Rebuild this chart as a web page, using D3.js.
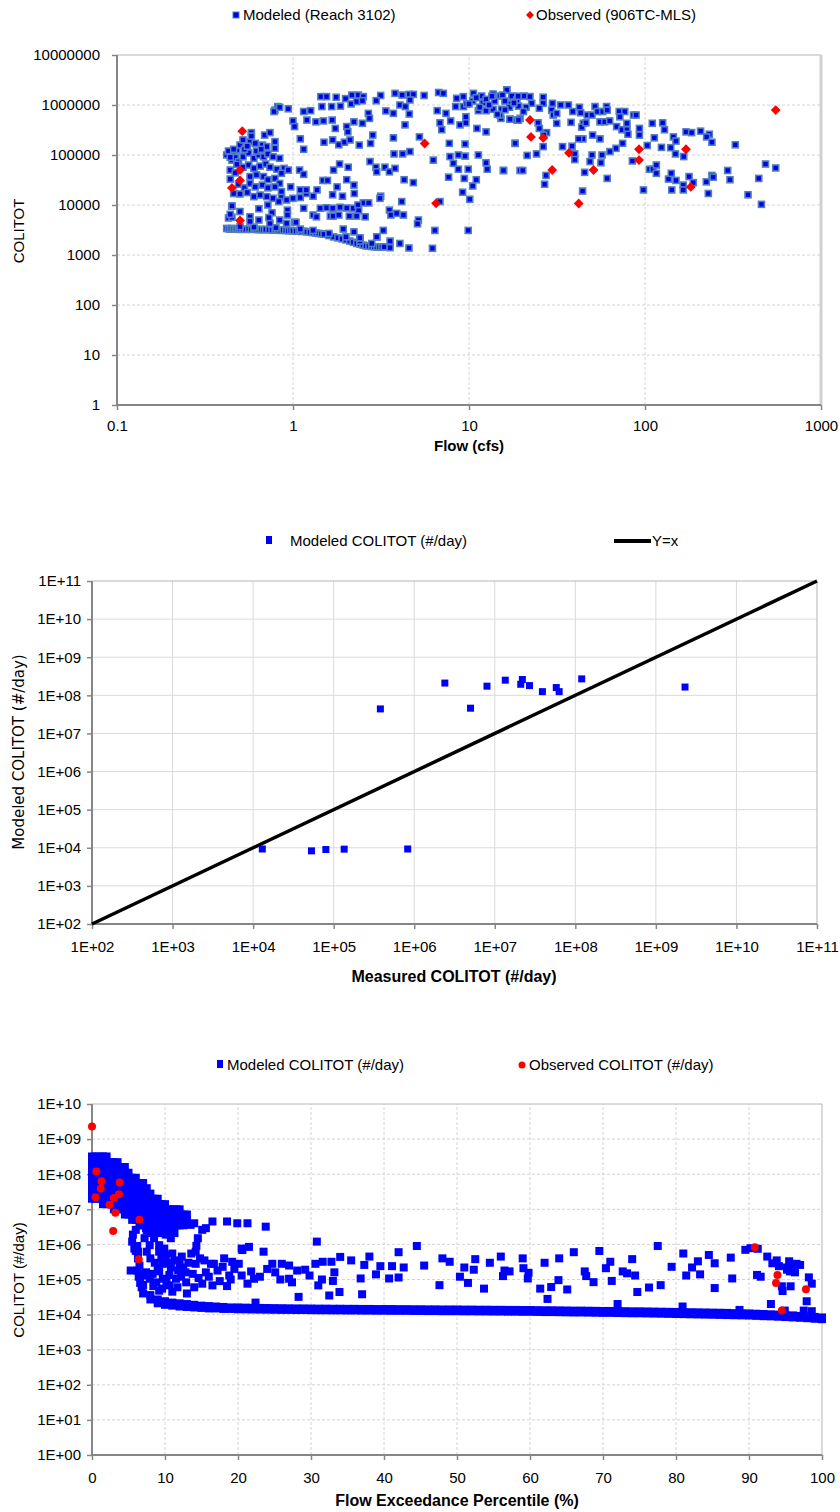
<!DOCTYPE html>
<html><head><meta charset="utf-8">
<script src="https://cdn.jsdelivr.net/npm/d3@7/dist/d3.min.js"></script>
<style>body{margin:0;background:#fff}svg{display:block}</style>
</head><body>
<svg id="chart" width="840" height="1512"></svg>
<script>
// ---------------- Panel 1: Flow vs COLITOT ----------------
const flowTicks = [0.1, 1, 10, 100, 1000];
const coliTicks = [1, 10, 100, 1000, 10000, 100000, 1000000, 10000000];
const reachFlowColi = [
[0.42,3400],[0.43,3350],[0.44,3300],[0.45,3400],[0.46,3300],[0.47,3350],[0.48,3300],[0.49,3250],[0.50,3350],[0.52,3300],[0.54,3250],[0.56,3300],[0.58,3250],[0.60,3300],[0.62,3250],[0.64,3200],[0.66,3250],[0.68,3200],[0.70,3250],[0.73,3200],[0.76,3150],[0.79,3200],[0.82,3150],[0.85,3100],[0.88,3150],[0.91,3100],[0.94,3050],[0.97,3100],[1.0,3050],[1.04,3000],[1.08,3050],[1.12,2950],[1.16,3000],[1.2,2900],[1.25,2850],[1.3,2800],[1.35,2750],[1.4,2700],[1.45,2650],[1.5,2600],[1.6,2450],[1.7,2300],[1.8,2200],[1.9,2100],[2.0,2000],[2.1,1900],[2.2,1800],[2.3,1700],[2.4,1650],[2.5,1580],[2.6,1520],[2.7,1500],[2.8,1480],[2.9,1460],[3.0,1450],[3.1,1450],[3.2,1440],[3.3,1450],
[0.5,3700],[0.6,3600],[0.8,3500],[1.1,3300],[1.3,3100],[1.6,2700],[2.0,2300],[2.4,1900],[2.8,1700],[3.56,1400],[4.56,1380],[6.2,1360],[4.05,1700],[3.56,1900],[2.4,2200],[3.0,2300],
[0.58,280000],[0.69,250000],[0.74,280000],[0.46,108000],[0.48,126000],[0.50,158000],[0.52,200000],[0.57,185000],[0.61,171000],[0.67,158000],[0.71,147000],[0.79,185000],[0.79,136000],
[0.45,79000],[0.47,89000],[0.49,73000],[0.52,92000],[0.56,110000],[0.60,86000],[0.64,100000],[0.68,92000],[0.72,105000],[0.77,92000],[0.84,86000],[0.89,54000],[0.94,50000],
[0.44,50000],[0.44,33000],[0.47,44000],[0.52,57000],[0.56,63000],[0.60,54000],[0.65,60000],[0.70,66000],[0.74,57000],[0.81,52000],[0.86,43000],
[0.57,37000],[0.62,40000],[0.68,37000],[0.72,32000],[0.79,34000],[0.84,27000],[0.49,26000],[0.53,22000],[0.57,27000],[0.61,23000],[0.67,25000],[0.72,22000],[0.79,23000],[0.86,18500],
[0.46,17000],[0.50,16600],[0.55,17800],[0.60,14700],[0.65,15800],[0.71,14700],[0.77,13600],[0.86,14100],[0.92,12600],[1.0,13600],[1.10,14100],[1.19,17000],
[0.45,9500],[0.50,7400],[0.57,5800],[0.64,8400],[0.72,10000],[0.83,11700],[0.43,5500],[0.45,5700],[0.57,4700],[0.64,5000],[0.74,4300],[0.84,5000],[0.92,4300],[1.02,4500],
[0.42,100000],[0.43,120000],[0.44,90000],[0.46,130000],[0.48,65000],[0.53,130000],[0.55,150000],[0.62,120000],[0.66,130000],[0.58,240000],[0.79,790000],[0.82,930000],[0.45,9600],[0.44,6500],
[1.44,1470000],[1.55,1470000],[1.76,1430000],[1.99,1340000],[2.16,1580000],[2.35,1580000],[2.51,1470000],[3.15,1550000],[3.80,1710000],[4.17,1580000],[4.58,1630000],[4.83,1630000],[5.56,1550000],[6.72,1780000],[7.15,1710000],[8.51,1360000],[9.29,1470000],[10.6,1710000],[11.8,1510000],[13.7,1660000],[15.0,1510000],[16.4,2000000],[17.9,1360000],
[0.78,740000],[0.84,900000],[0.94,840000],[1.15,740000],[1.26,770000],[1.46,930000],[1.66,930000],[1.86,950000],[2.14,1050000],[2.30,1170000],[2.48,1220000],[2.68,680000],[2.97,1220000],[3.37,760000],[3.72,680000],[4.05,1000000],[4.35,930000],[4.62,1260000],[6.6,770000],[7.4,680000],[8.4,930000],[9.3,930000],[9.7,1050000],[11.3,770000],[12.5,770000],[13.7,820000],[15.3,820000],[17.1,1050000],[19.1,950000],
[1.0,480000],[1.02,370000],[1.2,500000],[1.35,460000],[1.49,480000],[1.67,500000],[1.74,340000],[2.02,370000],[2.05,290000],[2.22,460000],[2.48,430000],[2.72,540000],[4.33,400000],[4.58,660000],[6.84,440000],[7.0,320000],[7.87,480000],[8.89,400000],[9.6,580000],[9.6,440000],[11.1,340000],[12.5,290000],[15.2,540000],[17.1,520000],[18.7,500000],
[1.10,210000],[1.15,130000],[1.50,180000],[1.68,200000],[1.82,160000],[1.96,180000],[2.11,200000],[2.38,158000],[2.76,171000],[2.84,250000],[3.72,220000],[3.75,105000],[4.2,105000],[4.62,117000],[5.23,230000],[6.27,79000],[7.73,171000],[7.8,93000],[8.7,100000],[9.5,166000],[9.5,95000],[11.3,100000],[18.3,171000],
[1.09,50000],[1.15,41000],[1.70,50000],[1.84,66000],[2.06,57000],[2.74,74000],[2.96,57000],[2.99,46000],[3.33,57000],[3.53,46000],[3.80,54000],[4.28,32000],[4.83,28000],[7.66,36000],[8.15,68000],[8.7,52000],[9.4,34000],[9.9,52000],[11.0,32000],[12.5,70000],[12.7,52000],[15.7,49000],[19.5,49000],
[0.97,23000],[1.10,20000],[1.19,20000],[1.30,15000],[1.37,20000],[1.48,31000],[1.57,31000],[1.68,16000],[1.78,23000],[1.91,15000],[2.02,32000],[2.22,25000],[2.23,17000],[2.51,11000],[2.69,11000],[3.15,15000],[3.12,13600],[4.15,11700],[6.84,11700],[9.2,18000],[10.1,13000],[10.5,24000],
[1.15,8600],[1.43,8600],[1.55,8800],[1.68,8600],[1.85,9000],[2.02,8700],[2.20,8600],[2.34,10000],[2.36,7700],
[1.30,6300],[1.36,5800],[1.63,6000],[1.69,6000],[1.82,6300],[2.09,6000],[2.30,6000],[2.57,5800],[3.53,7900],[3.6,6300],[3.88,6800],[4.24,6300],[5.16,5000],[5.1,4200],[0.93,7900],[0.93,6300],[1.04,4500],[0.76,7000],[0.73,5600],
[1.93,3300],[2.22,2900],[3.26,3100],[6.4,3100],[9.9,3100],[2.40,2200],[2.99,2300],
[16.4,2000000],[15.5,1580000],[17.5,1510000],[18.7,1260000],[20.6,1510000],[22.2,1470000],[22.7,1080000],[21.1,900000],[20.4,740000],[19.5,540000],[17.1,520000],[19.1,500000],[17.0,900000],
[26.4,1430000],[26.4,1080000],[29.8,1080000],[29.5,790000],[30.1,630000],[31.5,680000],[33.2,1000000],[36.7,1000000],[25.1,860000],[42.4,900000],[38.9,740000],[43.1,700000],[47.0,630000],[50,630000],[52,930000],[53.7,740000],[57.5,740000],[60.5,930000],[61,790000],[71.4,740000],[76.7,740000],[86,630000],[89,630000],[72,580000],
[24.7,440000],[31.5,430000],[38,450000],[44.6,430000],[43.7,360000],[46.2,440000],[55.5,460000],[59,460000],[63,480000],[69,370000],[74,320000],[79,320000],[79,430000],[80,260000],[93,340000],[93,250000],[110,430000],[126,440000],[129,320000],[145,230000],[150,190000],[171,290000],[184,280000],[207,300000],[232,260000],[224,230000],[240,180000],[326,160000],[15.0,630000],
[27.6,280000],[25.1,340000],[26.6,250000],[50.4,250000],[55.5,210000],[44.4,210000],[42,210000],[74.6,171000],[68.4,136000],[63.2,117000],[57,100000],[50,100000],[56.2,70000],[48.7,74000],[39.9,105000],[39.9,81000],[38.5,150000],[34,147000],[26.4,147000],[24.2,105000],[21.4,98000],[18.3,171000],
[15.7,49000],[20.2,49000],[45.4,45000],[61,34000],[27.4,39000],[26.9,26000],[44.2,19000],[84.8,76000],[103,155000],[113,220000],[124,142000],[140,140000],[149,105000],[166,93000],[106,52000],[111,52000],[116,63000],[116,43000],[98,20000],[136,33000],[141,43000],[150,31000],[142,20000],[165,25000],[165,20000],[178,37000],[188,28000],[223,29000],[240,39000],[244,36000],[229,17000],[295,49000],[304,32000],[385,16000],[443,34000],[484,66000],[553,55000],[459,10300],
[10.5,1200000],[11,1400000],[12,1100000],[12.5,1300000],[13,1000000],[14,1200000],[11.5,900000],[13.5,1500000],[16,1200000],[18,1100000],[19,1500000],[10,1050000],[14.5,650000],[16,800000]
];
const observedFlowColi = [
[0.515,300000],[0.50,50000],[0.50,31000],[0.45,22000],[0.50,4900],[5.6,170000],[6.5,10800],[22.2,500000],[22.5,230000],[26.4,220000],[37,110000],[29.7,50000],[42,10700],[51,50000],[92.5,130000],[92.5,79000],[171,130000],[182,23000],[553,790000]
];

// ---------------- Panel 2: Measured vs Modeled ----------------
const loadTicks = [1e2,1e3,1e4,1e5,1e6,1e7,1e8,1e9,1e10,1e11];
const measuredLoad = [1.3e4,5.3e4,8.0e4,1.35e5,8.3e5,3.8e5,2.4e6,5.0e6,8.0e6,1.35e7,2.2e7,2.1e7,2.7e7,3.9e7,5.8e7,6.3e7,1.2e8,2.3e9];
const modeledLoad  = [9.3e3,8.3e3,9.0e3,9.2e3,9.3e3,4.4e7,2.1e8,4.6e7,1.74e8,2.5e8,2.6e8,1.95e8,1.8e8,1.25e8,1.6e8,1.25e8,2.7e8,1.65e8];
const oneToOne = [1e2, 1e11];

// ---------------- Panel 3: Flow exceedance ----------------
const pctTicks = [0,10,20,30,40,50,60,70,80,90,100];
const dayLoadTicks = [1e0,1e1,1e2,1e3,1e4,1e5,1e6,1e7,1e8,1e9,1e10];
const blobPct = [0,0.5,1,1.5,2,2.5,3,3.5,4,4.5,5,5.5,6,6.5,7,7.5,8,8.5,9,9.5,10,10.5,11,11.5,12,12.5,13];
const blobColumns = [
[3.2e8,2.2e8,1.6e8,1.1e8,7.9e7,5.6e7,4.0e7,2.8e7,2.0e7],
[3.2e8,2.2e8,1.6e8,1.1e8,7.9e7,5.6e7,4.0e7,2.8e7,2.0e7],
[3.2e8,2.2e8,1.6e8,1.1e8,7.9e7,5.6e7,4.0e7,2.8e7,2.0e7],
[3.2e8,2.2e8,1.6e8,1.1e8,7.9e7,5.6e7,4.0e7,2.8e7,2.0e7,1.4e7],
[3.2e8,2.2e8,1.6e8,1.1e8,7.9e7,5.6e7,4.0e7,2.8e7,2.0e7,1.4e7],
[2.2e8,1.6e8,1.1e8,7.9e7,5.6e7,4.0e7,2.8e7,2.0e7,1.4e7],
[2.2e8,1.6e8,1.1e8,7.9e7,5.6e7,4.0e7,2.8e7,2.0e7,1.4e7,1.0e7],
[2.2e8,1.6e8,1.1e8,7.9e7,5.6e7,4.0e7,2.8e7,2.0e7,1.4e7,1.0e7],
[1.6e8,1.1e8,7.9e7,5.6e7,4.0e7,2.8e7,2.0e7,1.4e7,1.0e7],
[1.6e8,1.1e8,7.9e7,5.6e7,4.0e7,2.8e7,2.0e7,1.4e7,1.0e7,7.1e6],
[1.1e8,7.9e7,5.6e7,4.0e7,2.8e7,2.0e7,1.4e7,1.0e7,7.1e6],
[7.9e7,5.6e7,4.0e7,2.8e7,2.0e7,1.4e7,1.0e7,7.1e6,5.0e6],
[7.9e7,5.6e7,4.0e7,2.8e7,2.0e7,1.4e7,1.0e7,7.1e6,5.0e6],
[5.6e7,4.0e7,2.8e7,2.0e7,1.4e7,1.0e7,7.1e6,5.0e6,3.5e6],
[5.6e7,4.0e7,2.8e7,2.0e7,1.4e7,1.0e7,7.1e6,5.0e6,3.5e6],
[4.0e7,2.8e7,2.0e7,1.4e7,1.0e7,7.1e6,5.0e6,3.5e6,2.5e6],
[2.8e7,2.0e7,1.4e7,1.0e7,7.1e6,5.0e6,3.5e6,2.5e6],
[2.0e7,1.4e7,1.0e7,7.1e6,5.0e6,3.5e6,2.5e6],
[2.0e7,1.4e7,1.0e7,7.1e6,5.0e6,3.5e6,2.5e6],
[1.4e7,1.0e7,7.1e6,5.0e6,3.5e6,2.5e6],
[1.4e7,1.0e7,7.1e6,5.0e6,3.5e6,2.5e6],
[1.0e7,7.1e6,5.0e6,3.5e6,2.5e6],
[1.0e7,7.1e6,5.0e6,3.5e6,2.5e6],
[1.0e7,7.1e6,5.0e6,3.5e6],
[1.0e7,7.1e6,5.0e6,3.5e6],
[7.1e6,5.0e6,3.5e6],
[7.1e6,5.0e6]
];
const basePct = [7,8,9,10,11,12,13,14,15,16,17,18,19,20,21,22,23,24,25,26,27,28,29,30,31,32,33,34,35,36,37,38,39,40,41,42,43,44,45,46,47,48,49,50,51,52,53,54,55,56,57,58,59,60,61,62,63,64,65,66,67,68,69,70,71,72,73,74,75,76,77,78,79,80,81,82,83,84,85,86,87,88,89,90,91,92,93,94,95,96,97,98,99,100];
const baseUpper = [70000,36000,27000,24000,22000,21000,20000,19000,18000,17500,17000,16500,16000,16000,15800,15600,15500,15400,15300,15200,15100,15000,15000,14900,14800,14800,14700,14700,14600,14600,14500,14500,14400,14400,14400,14300,14300,14200,14200,14100,14100,14000,14000,14000,13900,13900,13800,13800,13700,13700,13600,13600,13500,13500,13400,13300,13300,13200,13100,13000,13000,12900,12800,12700,12700,12600,12500,12400,12400,12300,12200,12100,12000,11900,11800,11700,11600,11500,11400,11300,11200,11000,10900,10800,10600,10400,10200,10000,9800,9500,9200,8900,8600,8300];
const baseLower = [40000,27000,21000,19000,18000,17000,16500,16000,15500,15000,15000,14500,14500,14200,14100,14000,13900,13800,13700,13600,13600,13500,13500,13400,13300,13300,13200,13200,13100,13100,13000,13000,12900,12900,12800,12800,12800,12700,12700,12600,12600,12500,12500,12500,12400,12400,12300,12300,12200,12200,12100,12100,12000,12000,11900,11800,11800,11700,11600,11500,11500,11400,11300,11200,11200,11100,11000,10900,10900,10800,10700,10600,10500,10400,10300,10200,10100,10000,9900,9800,9700,9600,9500,9400,9200,9000,8900,8700,8500,8300,8100,7900,7600,7400];
const scatterPctLoad = [
[16.5,4.5e6],[18.5,4.5e6],[19.9,4.0e6],[21.3,4.0e6],[23.8,3.2e6],[15.1,2.6e6],[15.6,2.9e6],[14.5,1.5e6],[14.3,9.1e5],[14.2,6.2e5],[20.6,6.9e5],[21.5,8.5e5],[23.5,6.2e5],[30.8,1.2e6],[30.6,2.8e5],[31.6,3.2e5],[32.8,3.2e5],[34.0,4.4e5],[29.2,1.9e5],[28.1,1.8e5],[27.0,1.05e5],[27.4,8.3e4],[24.7,2.8e5],[26.0,2.8e5],[25.1,1.6e5],[22.2,1.05e5],[21.3,7.6e4],[20.5,7.6e5],[20.1,2.8e5],[19.2,3.2e5],[18.1,4.0e5],[17.9,2.3e5],[16.7,2.8e5],[16.3,2.8e5],[15.6,1.6e5],[14.2,2.8e5],[13.8,1.45e5],[12.8,1.6e5],[12.0,2.8e5],[11.5,1.05e5],[10.6,1.35e5],[10.1,4.9e5],[9.7,2.8e5],[9.2,1.7e5],[10.6,6.8e4],[9.7,1.05e5],[8.8,8.3e4],[8.3,1.45e5],[7.9,1.05e5],[7.4,1.6e5],[7.0,1.3e5],[6.5,1.45e5],[5.3,1.8e5],[9.2,4.8e4],[12.9,8.3e4],[15.1,7.6e4],[16.5,6.8e4],[22.4,2.2e4],[28.3,3.2e4],[31.0,6.8e4],[32.5,3.5e4],
[5.8,7.6e5],[6.3,6.2e5],[5.5,1.2e6],[5.6,1.9e6],[6.0,2.6e6],[6.7,3.6e6],[7.4,2.9e6],[7.9,2.1e6],[7.2,1.5e6],[7.9,9.5e5],[7.5,6.2e5],[8.5,1.5e6],[9.2,2.1e6],[9.7,2.9e6],[10.1,1.9e6],[10.8,1.5e6],[11.3,2.1e6],[9.9,7.6e5],[9.2,6.2e5],[11.0,5.5e5],[9.2,9.5e5],[12.0,3.6e6],[13.5,3.6e6],[14.0,4.0e6],[8.8,3.6e6],[7.0,4.5e6],[8.1,5.6e6],
[6.2,1.8e5],[6.4,1.2e5],[6.6,8.0e4],[6.8,6.0e4],[6.5,2.5e5],[6.3,4.0e5],[6.0,6.5e5],[6.2,9.0e5],
[8.0,4.0e5],[8.6,3.0e5],[9.0,2.2e5],[9.5,4.0e5],[10.3,3.0e5],[10.8,2.2e5],[11.3,3.5e5],[11.8,1.8e5],[12.3,4.5e5],[12.5,2.2e5],[13.2,3.0e5],[13.6,5.5e5],[14.8,4.0e5],[15.4,3.5e5],[17.2,1.8e5],[18.8,1.3e5],[19.5,2.0e5],[8.4,6.5e4],[9.6,5.5e4],[10.2,8.5e4],[11.0,4.5e4],[11.7,6.0e4],[12.2,1.2e5],[13.0,4.0e4],[14.0,6.0e4],[14.6,1.1e5],[16.0,1.2e5],[17.5,9.0e4],[18.5,6.5e4],[19.0,1.0e5],[20.5,1.3e5],[21.8,1.7e5],[23.0,1.2e5],[24.0,2.0e5],[25.8,1.0e5],[27.0,2.5e5],[29.8,1.3e5],[31.5,1.0e5],[33.2,1.6e5],
[33.0,9.1e4],[33.9,4.4e4],[36.8,1.07e5],[37.0,3.8e4],[37.3,2.6e5],[38.9,1.4e5],[39.5,2.4e5],[40.7,1.07e5],[41.1,2.4e5],[42.0,1.14e5],[42.7,2.2e5],[47.6,6.9e4],[50.4,1.2e5],[51.0,2.2e5],[51.5,8.0e4],[52.3,1.9e5],[53.7,5.5e4],[56.3,1.25e5],[56.5,1.8e5],[57.2,1.7e5],[59.1,2.1e5],[59.7,1.07e5],[59.8,1.55e5],[61.4,5.5e4],[62.4,2.8e4],[62.9,6.1e4],[63.9,9.6e4],[65.1,5.2e4],[67.5,1.7e5],[67.7,1.25e5],[68.7,8.4e4],[70.4,2.1e5],[71.2,9.1e4],[72.0,2.0e4],[72.7,1.7e5],[73.3,1.5e5],[74.4,1.3e5],[74.7,4.4e4],[76.3,5.9e4],[77.9,6.9e4],[79.4,2.3e5],[80.9,1.7e4],[81.4,1.3e5],[82.2,2.2e5],[83.3,1.4e5],[85.3,2.9e5],[85.3,5.7e4],[87.7,1.07e5],[88.7,1.36e4],[91.1,1.35e5],[91.6,1.2e5],[93.0,2.0e4],[93.2,2.9e5],[94.1,2.4e5],[95.2,2.2e5],[95.9,2.4e5],[96.3,1.6e5],[95.6,1.7e5],[95.2,1.9e5],[94.5,6.4e4],[94.6,4.7e4],[95.7,6.4e4],[97.9,2.4e4],[98.2,1.15e5],[98.6,7.6e4],[94.9,1.3e4],[97.5,1.3e4],[98.6,1.25e4],
[38.0,4.5e5],[42.0,6.0e5],[44.5,9.0e5],[48.0,4.0e5],[49.0,3.2e5],[52.5,3.8e5],[54.5,3.0e5],[56.0,4.5e5],[59.0,4.0e5],[62.0,3.0e5],[64.0,4.0e5],[66.0,6.0e5],[69.5,6.5e5],[71.0,3.2e5],[74.0,3.8e5],[77.5,9.0e5],[81.0,5.5e5],[83.0,3.3e5],[84.5,5.0e5],[87.5,4.2e5],[89.5,7.0e5],[90.2,7.8e5],[91.2,7.5e5],[92.5,4.5e5],[93.8,3.5e5],[95.5,3.3e5],[96.5,2.8e5],[97.0,2.6e5],[35.5,3.5e5],[45.5,2.5e5]
];
const observedPctLoad = [
[0,2.3e9],[0.6,1.2e8],[1.3,6.3e7],[3.8,5.8e7],[1.2,3.9e7],[3.7,2.7e7],[0.5,2.2e7],[3.0,2.1e7],[2.4,1.35e7],[3.2,8.0e6],[6.5,5.0e6],[2.9,2.4e6],[6.4,3.8e5],[90.8,8.3e5],[93.9,1.35e5],[93.7,8.0e4],[97.8,5.3e4],[94.5,1.3e4]
];

// ---------------- rendering ----------------
const F = "'Liberation Sans', Arial, sans-serif";
const svg = d3.select('#chart');
const AX = '#868686';

function expFmt(v){ const e = Math.round(Math.log10(v)); return '1E+' + (e < 10 ? '0' + e : e); }

function panel(o){
  const g = svg.append('g');
  const [x0,x1] = o.x.range(), [y0,y1] = o.y.range();
  // grid
  g.selectAll('.gv').data(o.xTicks.slice(1, -1)).join('line')
    .attr('x1', d=>o.x(d)).attr('x2', d=>o.x(d)).attr('y1', y0).attr('y2', y1)
    .attr('stroke', o.gridColor).attr('stroke-width', 1).attr('stroke-dasharray', o.dash);
  g.selectAll('.gh').data(o.yTicks.slice(1, -1)).join('line')
    .attr('x1', x0).attr('x2', x1).attr('y1', d=>o.y(d)).attr('y2', d=>o.y(d))
    .attr('stroke', o.gridColor).attr('stroke-width', 1).attr('stroke-dasharray', o.dash);
  // top & right border
  g.append('line').attr('x1', x0).attr('x2', x1).attr('y1', y1).attr('y2', y1).attr('stroke', '#b4b4b4').attr('stroke-width', 1);
  g.append('line').attr('x1', x1).attr('x2', x1).attr('y1', y0).attr('y2', y1).attr('stroke', o.rightColor).attr('stroke-width', o.rightW);
  // axes
  const ya = d3.axisLeft(o.y).tickValues(o.yTicks).tickFormat(o.yFmt).tickSize(5).tickPadding(o.yPad);
  const xa = d3.axisBottom(o.x).tickValues(o.xTicks).tickFormat(o.xFmt).tickSize(5).tickPadding(o.xPad);
  const gy = g.append('g').attr('transform', `translate(${x0},0)`).call(ya);
  const gx = g.append('g').attr('transform', `translate(0,${y0})`).call(xa);
  [gx, gy].forEach(a => {
    a.select('.domain').attr('stroke', AX).attr('stroke-width', 2);
    a.selectAll('.tick line').attr('stroke', AX).attr('stroke-width', 1.5);
    a.selectAll('.tick text').attr('fill', '#000').style('font-family', F).style('font-size', o.tickSize + 'px');
  });
  gy.select('.domain').attr('d', `M0,${y0}V${y1}`);
  gx.select('.domain').attr('d', `M${x0},0H${x1}`);
  return g;
}

function legendText(x, y, t, size){
  svg.append('text').attr('x', x).attr('y', y).text(t).style('font-family', F).style('font-size', (size||15) + 'px').attr('fill', '#000');
}

// ===== Panel 1 =====
{
  const x = d3.scaleLog().domain([0.1, 1000]).range([117, 821]);
  const y = d3.scaleLog().domain([1, 1e7]).range([405, 55]);
  panel({x, y, xTicks: flowTicks, yTicks: coliTicks, xFmt: d=>String(d), yFmt: d=>String(d),
    gridColor: '#d4d4d4', dash: '3,2', rightColor: '#d0d0d0', rightW: 3, tickSize: 15, xPad: 10, yPad: 12});
  svg.append('g').selectAll('rect').data(reachFlowColi).join('rect')
    .attr('x', d=>x(d[0]) - 3).attr('y', d=>y(d[1]) - 3).attr('width', 6).attr('height', 6)
    .attr('fill', '#0000e6').attr('stroke', '#4f81bd').attr('stroke-width', 1.6);
  const dia = d3.symbol(d3.symbolDiamond2, 62);
  svg.append('g').selectAll('path').data(observedFlowColi).join('path')
    .attr('d', dia).attr('transform', d=>`translate(${x(d[0])},${y(d[1])})`).attr('fill', '#ff0000');
  svg.append('text').attr('x', 469).attr('y', 451).attr('text-anchor', 'middle').text('Flow (cfs)')
    .style('font-family', F).style('font-size', '15px').style('font-weight', 'bold');
  svg.append('text').attr('transform', 'translate(24,231) rotate(-90)').attr('text-anchor', 'middle').text('COLITOT')
    .style('font-family', F).style('font-size', '15px');
  // legend
  svg.append('rect').attr('x', 233).attr('y', 12).attr('width', 6).attr('height', 6).attr('fill', '#0000e6').attr('stroke', '#4f81bd').attr('stroke-width', 1);
  legendText(243, 20, 'Modeled (Reach 3102)');
  svg.append('path').attr('d', d3.symbol(d3.symbolDiamond2, 40)).attr('transform', 'translate(530,15)').attr('fill', '#ff0000');
  legendText(536, 20, 'Observed (906TC-MLS)');
}

// ===== Panel 2 =====
{
  const x = d3.scaleLog().domain([1e2, 1e11]).range([92, 817]);
  const y = d3.scaleLog().domain([1e2, 1e11]).range([924, 581]);
  panel({x, y, xTicks: loadTicks, yTicks: loadTicks, xFmt: expFmt, yFmt: expFmt,
    gridColor: '#dadada', dash: null, rightColor: '#b4b4b4', rightW: 1, tickSize: 15, xPad: 12, yPad: 6});
  svg.append('line').attr('x1', x(oneToOne[0])).attr('y1', y(oneToOne[0])).attr('x2', x(oneToOne[1])).attr('y2', y(oneToOne[1]))
    .attr('stroke', '#000').attr('stroke-width', 3.5);
  svg.append('g').selectAll('rect').data(measuredLoad).join('rect')
    .attr('x', (d,i)=>x(d) - 3.5).attr('y', (d,i)=>y(modeledLoad[i]) - 3.5).attr('width', 7).attr('height', 7).attr('fill', '#0000ff');
  svg.append('text').attr('x', 454).attr('y', 982).attr('text-anchor', 'middle').text('Measured COLITOT (#/day)')
    .style('font-family', F).style('font-size', '16px').style('font-weight', 'bold');
  svg.append('text').attr('transform', 'translate(24,752) rotate(-90)').attr('text-anchor', 'middle').text('Modeled COLITOT (#/day)')
    .style('font-family', "'DejaVu Sans', sans-serif").style('font-size', '15px');
  svg.append('rect').attr('x', 266).attr('y', 536).attr('width', 6).attr('height', 8).attr('fill', '#0000ff');
  legendText(290, 546, 'Modeled COLITOT (#/day)');
  svg.append('line').attr('x1', 614).attr('x2', 651).attr('y1', 541).attr('y2', 541).attr('stroke', '#000').attr('stroke-width', 4);
  legendText(652, 546, 'Y=x');
}

// ===== Panel 3 =====
{
  const x = d3.scaleLinear().domain([0, 100]).range([92, 822]);
  const y = d3.scaleLog().domain([1, 1e10]).range([1455, 1104]);
  panel({x, y, xTicks: pctTicks, yTicks: dayLoadTicks, xFmt: d=>String(d), yFmt: d=>'1E+' + String(Math.round(Math.log10(d))).padStart(2,'0'),
    gridColor: '#d4d4d4', dash: '3,2', rightColor: '#b4b4b4', rightW: 1, tickSize: 15, xPad: 12, yPad: 6});
  const S = 8;
  const gm = svg.append('g').attr('fill', '#0000ff');
  const blobPts = blobPct.flatMap((p, i) => blobColumns[i].map(v => [p, v]));
  gm.selectAll('.b').data(blobPts).join('rect').attr('x', d=>x(d[0]) - S/2).attr('y', d=>y(d[1]) - S/2).attr('width', S).attr('height', S);
  gm.selectAll('.u').data(basePct).join('rect').attr('x', d=>x(d) - S/2).attr('y', (d,i)=>y(baseUpper[i]) - S/2).attr('width', S).attr('height', S);
  gm.selectAll('.l').data(basePct).join('rect').attr('x', d=>x(d) - S/2).attr('y', (d,i)=>y(baseLower[i]) - S/2).attr('width', S).attr('height', S);
  gm.selectAll('.s').data(scatterPctLoad).join('rect').attr('x', d=>x(d[0]) - S/2).attr('y', d=>y(d[1]) - S/2).attr('width', S).attr('height', S);
  svg.append('g').selectAll('circle').data(observedPctLoad).join('circle')
    .attr('cx', d=>x(d[0])).attr('cy', d=>y(d[1])).attr('r', 4).attr('fill', '#ff0000');
  svg.append('text').attr('x', 457).attr('y', 1506).attr('text-anchor', 'middle').text('Flow Exceedance Percentile (%)')
    .style('font-family', F).style('font-size', '16px').style('font-weight', 'bold');
  svg.append('text').attr('transform', 'translate(24,1280) rotate(-90)').attr('text-anchor', 'middle').text('COLITOT (#/day)')
    .style('font-family', F).style('font-size', '15px');
  svg.append('rect').attr('x', 217).attr('y', 1060).attr('width', 6).attr('height', 8).attr('fill', '#0000ff');
  legendText(227, 1070, 'Modeled COLITOT (#/day)');
  svg.append('circle').attr('cx', 522).attr('cy', 1065).attr('r', 3.5).attr('fill', '#ff0000');
  legendText(529, 1070, 'Observed COLITOT (#/day)');
}
</script>
</body></html>
